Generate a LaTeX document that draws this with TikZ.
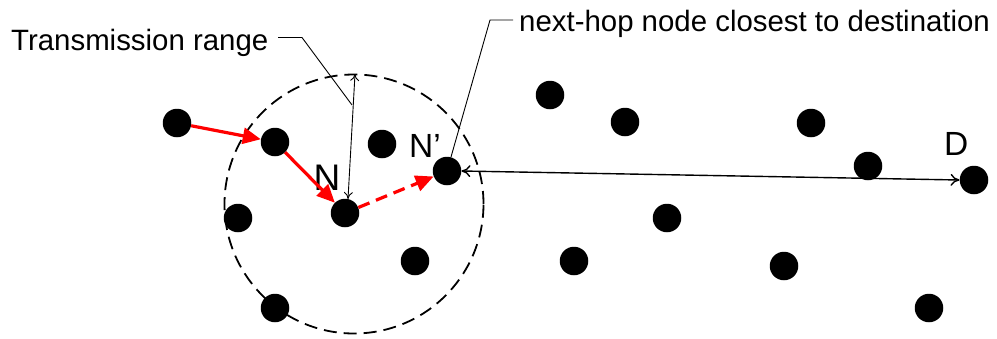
\documentclass[tikz,border=0pt]{standalone}
\usepackage{fontspec}
\setmainfont{Liberation Sans}
\usetikzlibrary{arrows.meta}
\begin{document}
\begin{tikzpicture}[x=1pt,y=-1pt,
  dot/.style={circle,fill=black,minimum size=28.5pt,inner sep=0pt},
  lbl/.style={font=\fontsize{29.4}{35}\selectfont,inner sep=0pt},
  biglbl/.style={font=\fontsize{33.5}{40}\selectfont,inner sep=0pt},
  hop/.style={red,line width=3.2pt,-{Triangle[length=18pt,width=16pt]}},
  leader/.style={line width=0.9pt},
  dblarrow/.style={line width=0.9pt,{To[length=7pt,width=9pt]}-{To[length=7pt,width=9pt]}},
  distarrow/.style={line width=1.4pt,{To[length=9pt,width=12pt]}-{To[length=9pt,width=12pt]}}
]
\useasboundingbox (0,0) rectangle (997,338);
% dashed transmission circle
\draw[dash pattern=on 13pt off 7pt,line width=1.8pt] (354,204) circle[radius=129.5pt];
% nodes
\node[dot] (A) at (177,123) {};
\node[dot] (B) at (275,142) {};
\node[dot] (N) at (345,213) {};
\node[dot] (C) at (382,144) {};
\node[dot] (Np) at (447,171) {};
\node[dot] (E) at (238,218) {};
\node[dot] (F) at (415,261) {};
\node[dot] (G) at (275,308) {};
\node[dot] (H) at (550,95) {};
\node[dot] (I) at (625,122) {};
\node[dot] (J) at (811,123) {};
\node[dot] (K) at (868,166) {};
\node[dot] (D) at (974,180) {};
\node[dot] (L) at (667,218) {};
\node[dot] (M) at (574,261) {};
\node[dot] (O) at (784,266) {};
\node[dot] (P) at (929,308) {};
% labels
\node[biglbl,font=\fontsize{37}{44}\selectfont,anchor=base] (Nl) at (327,190) {N};
\node[biglbl,anchor=base west] (Npl) at (409,157) {N’};
\node[biglbl,anchor=base west] (Dl) at (944,155) {D};
\node[lbl,anchor=base west] (tr) at (11,50) {Transmission range};
\node[lbl,anchor=base west] (nh) at (519,31) {next-hop node closest to destination};
% red hops
\draw[hop] (A) -- (B);
\draw[hop] (B) -- (N);
\draw[hop,dash pattern=on 12pt off 7pt] (N) -- (Np);
% transmission range arrow
\coordinate (rtop) at (355,74);
\coordinate (rbot) at (348,199);
\draw[dblarrow] (rtop) -- (rbot);
\coordinate (t1) at (278,37.5);
\coordinate (t2) at (302,37.5);
\coordinate (t3) at (352,105);
\draw[leader] (t1) -- (t2) -- (t3);
% next-hop leader
\coordinate (n1) at (513,20);
\coordinate (n2) at (490,20);
\coordinate (n3) at (451,157);
\draw[leader] (n1) -- (n2) -- (n3);
% distance arrow
\draw[distarrow] (Np.east) -- (D.west);
\end{tikzpicture}
\end{document}
